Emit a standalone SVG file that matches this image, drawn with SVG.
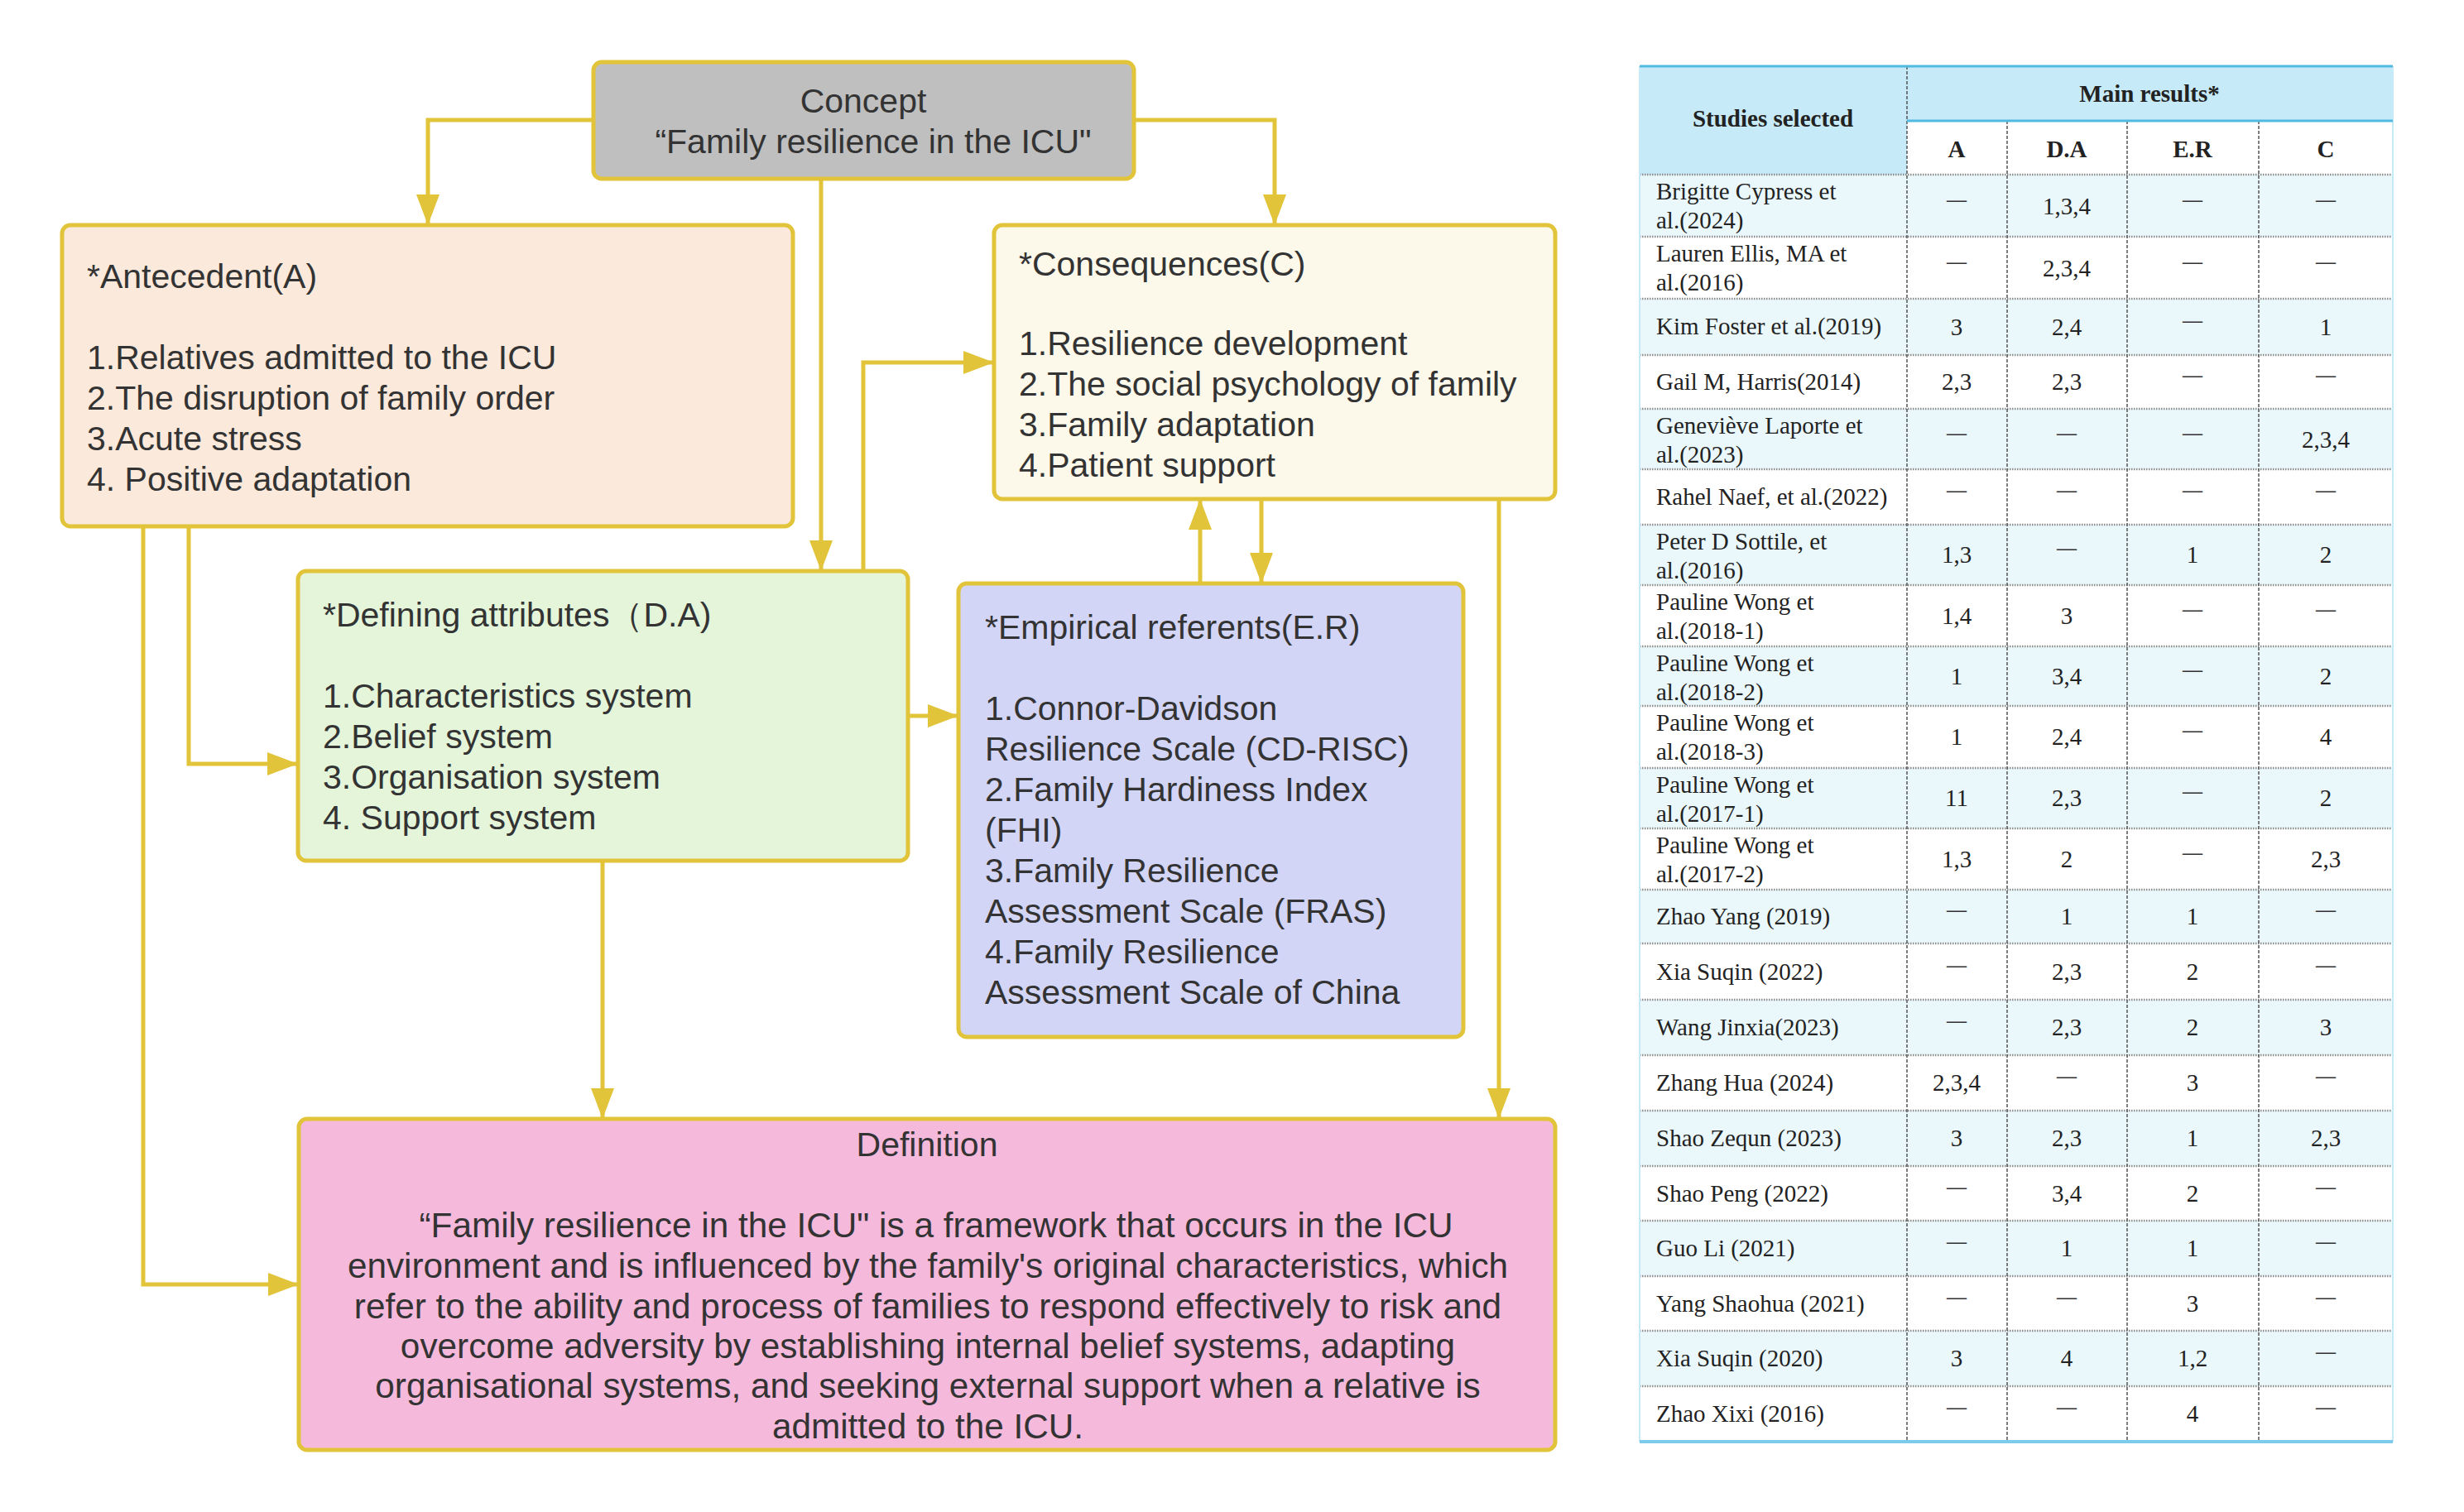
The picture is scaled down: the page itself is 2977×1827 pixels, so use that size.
<svg xmlns="http://www.w3.org/2000/svg" width="2977" height="1827" viewBox="0 0 2977 1827">
<style>
.box{stroke:#e1c43a;stroke-width:5}
.t{font-family:"Liberation Sans",Arial,sans-serif;font-size:41px;fill:#333}
.def{font-size:42.3px}
.c{text-anchor:middle}
.conn path{fill:none;stroke:#e1c43a;stroke-width:5}
.tb{font-family:"Liberation Serif","Times New Roman",serif;font-size:29px;fill:#222}
.tbh{font-weight:bold}
.v{text-anchor:middle}
.d{font-family:"Liberation Serif",serif;font-size:24px;font-weight:bold;fill:#333;text-anchor:middle}
.rowsep{stroke:#8c8c8c;stroke-width:2.5;stroke-dasharray:1.5 1.5}
.colsep{stroke:#555;stroke-width:1.5;stroke-dasharray:4 2}
</style>
<defs>
<marker id="ah" markerUnits="userSpaceOnUse" markerWidth="38" markerHeight="30" refX="37" refY="14" orient="auto">
<path d="M0,0 L37,14 L0,28 z" fill="#e1c43a"/>
</marker>
</defs>
<rect width="2977" height="1827" fill="#ffffff"/>

<g id="connectors" class="conn">
<path d="M717,145 H517 V272" marker-end="url(#ah)"/>
<path d="M1370,145 H1540 V272" marker-end="url(#ah)"/>
<path d="M992,216 V690" marker-end="url(#ah)"/>
<path d="M228,636 V923 H360" marker-end="url(#ah)"/>
<path d="M173,636 V1552 H361" marker-end="url(#ah)"/>
<path d="M1043,690 V438 H1201" marker-end="url(#ah)"/>
<path d="M1097,865 H1158" marker-end="url(#ah)"/>
<path d="M1450,705 V603" marker-end="url(#ah)"/>
<path d="M1524,603 V705" marker-end="url(#ah)"/>
<path d="M728,1040 V1352" marker-end="url(#ah)"/>
<path d="M1811,603 V1352" marker-end="url(#ah)"/>
</g>

<g id="concept">
<rect class="box" x="717" y="75" width="653" height="141" rx="10" fill="#bfbfbf"/>
<text class="t c"><tspan x="1043" y="136">Concept</tspan><tspan x="1055" y="185">“Family resilience in the ICU"</tspan></text>
</g>

<g id="antecedent">
<rect class="box" x="75" y="272" width="883" height="364" rx="10" fill="#fbe9db"/>
<text class="t"><tspan x="105" y="348">*Antecedent(A)</tspan><tspan x="105" y="446">1.Relatives admitted to the ICU</tspan><tspan x="105" y="495">2.The disruption of family order</tspan><tspan x="105" y="544">3.Acute stress</tspan><tspan x="105" y="593">4. Positive adaptation</tspan></text>
</g>

<g id="consequences">
<rect class="box" x="1201" y="272" width="678" height="331" rx="10" fill="#fcf8ea"/>
<text class="t"><tspan x="1231" y="333">*Consequences(C)</tspan><tspan x="1231" y="429">1.Resilience development</tspan><tspan x="1231" y="478">2.The social psychology of family</tspan><tspan x="1231" y="527">3.Family adaptation</tspan><tspan x="1231" y="576">4.Patient support</tspan></text>
</g>

<g id="defining-attributes">
<rect class="box" x="360" y="690" width="737" height="350" rx="10" fill="#e4f5da"/>
<text class="t"><tspan x="390" y="757">*Defining attributes（D.A)</tspan><tspan x="390" y="855">1.Characteristics system</tspan><tspan x="390" y="904">2.Belief system</tspan><tspan x="390" y="953">3.Organisation system</tspan><tspan x="390" y="1002">4. Support system</tspan></text>
</g>

<g id="empirical-referents">
<rect class="box" x="1158" y="705" width="610" height="548" rx="10" fill="#d3d5f6"/>
<text class="t"><tspan x="1190" y="772">*Empirical referents(E.R)</tspan><tspan x="1190" y="870">1.Connor-Davidson</tspan><tspan x="1190" y="919">Resilience Scale (CD-RISC)</tspan><tspan x="1190" y="968">2.Family Hardiness Index</tspan><tspan x="1190" y="1017">(FHI)</tspan><tspan x="1190" y="1066">3.Family Resilience</tspan><tspan x="1190" y="1115">Assessment Scale (FRAS)</tspan><tspan x="1190" y="1164">4.Family Resilience</tspan><tspan x="1190" y="1213">Assessment Scale of China</tspan></text>
</g>

<g id="definition">
<rect class="box" x="361" y="1352" width="1518" height="400" rx="10" fill="#f5b9db"/>
<text class="t c"><tspan x="1120" y="1397">Definition</tspan></text>
<text class="t def c"><tspan x="1131" y="1495">“Family resilience in the ICU" is a framework that occurs in the ICU</tspan><tspan x="1121" y="1544">environment and is influenced by the family's original characteristics, which</tspan><tspan x="1121" y="1592.5">refer to the ability and process of families to respond effectively to risk and</tspan><tspan x="1121" y="1641">overcome adversity by establishing internal belief systems, adapting</tspan><tspan x="1121" y="1689">organisational systems, and seeking external support when a relative is</tspan><tspan x="1121" y="1737.5">admitted to the ICU.</tspan></text>
</g>

<g id="table">
<rect x="1981" y="80" width="323" height="131" fill="#c6eaf8"/>
<rect x="2304" y="80" width="587" height="66" fill="#c6eaf8"/>
<rect x="2304" y="146" width="587" height="65" fill="#ffffff"/>
<g fill="#eaf8fc">
<rect x="1981" y="211" width="910" height="75"/>
<rect x="1981" y="361" width="910" height="68"/>
<rect x="1981" y="494" width="910" height="73"/>
<rect x="1981" y="634" width="910" height="73"/>
<rect x="1981" y="781" width="910" height="72"/>
<rect x="1981" y="928" width="910" height="73"/>
<rect x="1981" y="1075" width="910" height="65"/>
<rect x="1981" y="1208" width="910" height="67"/>
<rect x="1981" y="1342" width="910" height="67"/>
<rect x="1981" y="1475" width="910" height="67"/>
<rect x="1981" y="1608" width="910" height="67"/>
</g>
<g class="rowsep">
<line x1="1981" y1="211" x2="2891" y2="211"/>
<line x1="1981" y1="286" x2="2891" y2="286"/>
<line x1="1981" y1="361" x2="2891" y2="361"/>
<line x1="1981" y1="429" x2="2891" y2="429"/>
<line x1="1981" y1="494" x2="2891" y2="494"/>
<line x1="1981" y1="567" x2="2891" y2="567"/>
<line x1="1981" y1="634" x2="2891" y2="634"/>
<line x1="1981" y1="707" x2="2891" y2="707"/>
<line x1="1981" y1="781" x2="2891" y2="781"/>
<line x1="1981" y1="853" x2="2891" y2="853"/>
<line x1="1981" y1="928" x2="2891" y2="928"/>
<line x1="1981" y1="1001" x2="2891" y2="1001"/>
<line x1="1981" y1="1075" x2="2891" y2="1075"/>
<line x1="1981" y1="1140" x2="2891" y2="1140"/>
<line x1="1981" y1="1208" x2="2891" y2="1208"/>
<line x1="1981" y1="1275" x2="2891" y2="1275"/>
<line x1="1981" y1="1342" x2="2891" y2="1342"/>
<line x1="1981" y1="1409" x2="2891" y2="1409"/>
<line x1="1981" y1="1475" x2="2891" y2="1475"/>
<line x1="1981" y1="1542" x2="2891" y2="1542"/>
<line x1="1981" y1="1608" x2="2891" y2="1608"/>
<line x1="1981" y1="1675" x2="2891" y2="1675"/>
</g>
<g class="colsep">
<line x1="2304" y1="80" x2="2304" y2="1742"/>
<line x1="2425" y1="146" x2="2425" y2="1742"/>
<line x1="2570" y1="146" x2="2570" y2="1742"/>
<line x1="2729" y1="146" x2="2729" y2="1742"/>
</g>
<line x1="1981" y1="80" x2="1981" y2="1742" stroke="#c6eaf8" stroke-width="2"/>
<line x1="2891" y1="80" x2="2891" y2="1742" stroke="#c6eaf8" stroke-width="2"/>
<line x1="1981" y1="80" x2="2891" y2="80" stroke="#52b9e2" stroke-width="3"/>
<line x1="2304" y1="146" x2="2891" y2="146" stroke="#52b9e2" stroke-width="3"/>
<line x1="1981" y1="1742" x2="2891" y2="1742" stroke="#7dcbea" stroke-width="4"/>

<g class="tb tbh">
<text class="v" x="2142" y="153">Studies selected</text>
<text class="v" x="2597" y="123">Main results*</text>
<text class="v" x="2364" y="190">A</text>
<text class="v" x="2497" y="190">D.A</text>
<text class="v" x="2649" y="190">E.R</text>
<text class="v" x="2810" y="190">C</text>
</g>

<g class="tb">
<text><tspan x="2001" y="241">Brigitte Cypress et</tspan><tspan x="2001" y="276">al.(2024)</tspan></text>
<text><tspan x="2001" y="316">Lauren Ellis, MA et</tspan><tspan x="2001" y="351">al.(2016)</tspan></text>
<text x="2001" y="404">Kim Foster et al.(2019)</text>
<text x="2001" y="471">Gail M, Harris(2014)</text>
<text><tspan x="2001" y="524">Geneviève Laporte et</tspan><tspan x="2001" y="559">al.(2023)</tspan></text>
<text x="2001" y="610">Rahel Naef, et al.(2022)</text>
<text><tspan x="2001" y="664">Peter D Sottile, et</tspan><tspan x="2001" y="699">al.(2016)</tspan></text>
<text><tspan x="2001" y="737">Pauline Wong et</tspan><tspan x="2001" y="772">al.(2018-1)</tspan></text>
<text><tspan x="2001" y="811">Pauline Wong et</tspan><tspan x="2001" y="846">al.(2018-2)</tspan></text>
<text><tspan x="2001" y="883">Pauline Wong et</tspan><tspan x="2001" y="918">al.(2018-3)</tspan></text>
<text><tspan x="2001" y="958">Pauline Wong et</tspan><tspan x="2001" y="993">al.(2017-1)</tspan></text>
<text><tspan x="2001" y="1031">Pauline Wong et</tspan><tspan x="2001" y="1066">al.(2017-2)</tspan></text>
<text x="2001" y="1117">Zhao Yang (2019)</text>
<text x="2001" y="1184">Xia Suqin (2022)</text>
<text x="2001" y="1251">Wang Jinxia(2023)</text>
<text x="2001" y="1318">Zhang Hua (2024)</text>
<text x="2001" y="1385">Shao Zequn (2023)</text>
<text x="2001" y="1452">Shao Peng (2022)</text>
<text x="2001" y="1518">Guo Li (2021)</text>
<text x="2001" y="1585">Yang Shaohua (2021)</text>
<text x="2001" y="1651">Xia Suqin (2020)</text>
<text x="2001" y="1718">Zhao Xixi (2016)</text>
</g>

<g class="tb v">
<text x="2497" y="259">1,3,4</text>
<text x="2497" y="334">2,3,4</text>
<text x="2364" y="405">3</text><text x="2497" y="405">2,4</text><text x="2810" y="405">1</text>
<text x="2364" y="471">2,3</text><text x="2497" y="471">2,3</text>
<text x="2810" y="541">2,3,4</text>
<text x="2364" y="680">1,3</text><text x="2649" y="680">1</text><text x="2810" y="680">2</text>
<text x="2364" y="754">1,4</text><text x="2497" y="754">3</text>
<text x="2364" y="827">1</text><text x="2497" y="827">3,4</text><text x="2810" y="827">2</text>
<text x="2364" y="900">1</text><text x="2497" y="900">2,4</text><text x="2810" y="900">4</text>
<text x="2364" y="974">11</text><text x="2497" y="974">2,3</text><text x="2810" y="974">2</text>
<text x="2364" y="1048">1,3</text><text x="2497" y="1048">2</text><text x="2810" y="1048">2,3</text>
<text x="2497" y="1117">1</text><text x="2649" y="1117">1</text>
<text x="2497" y="1184">2,3</text><text x="2649" y="1184">2</text>
<text x="2497" y="1251">2,3</text><text x="2649" y="1251">2</text><text x="2810" y="1251">3</text>
<text x="2364" y="1318">2,3,4</text><text x="2649" y="1318">3</text>
<text x="2364" y="1385">3</text><text x="2497" y="1385">2,3</text><text x="2649" y="1385">1</text><text x="2810" y="1385">2,3</text>
<text x="2497" y="1452">3,4</text><text x="2649" y="1452">2</text>
<text x="2497" y="1518">1</text><text x="2649" y="1518">1</text>
<text x="2649" y="1585">3</text>
<text x="2364" y="1651">3</text><text x="2497" y="1651">4</text><text x="2649" y="1651">1,2</text>
<text x="2649" y="1718">4</text>
</g>

<g class="d">
<text x="2364" y="249">—</text><text x="2649" y="249">—</text><text x="2810" y="249">—</text>
<text x="2364" y="324">—</text><text x="2649" y="324">—</text><text x="2810" y="324">—</text>
<text x="2649" y="395">—</text>
<text x="2649" y="461">—</text><text x="2810" y="461">—</text>
<text x="2364" y="531">—</text><text x="2497" y="531">—</text><text x="2649" y="531">—</text>
<text x="2364" y="600">—</text><text x="2497" y="600">—</text><text x="2649" y="600">—</text><text x="2810" y="600">—</text>
<text x="2497" y="670">—</text>
<text x="2649" y="744">—</text><text x="2810" y="744">—</text>
<text x="2649" y="817">—</text>
<text x="2649" y="890">—</text>
<text x="2649" y="964">—</text>
<text x="2649" y="1038">—</text>
<text x="2364" y="1107">—</text><text x="2810" y="1107">—</text>
<text x="2364" y="1174">—</text><text x="2810" y="1174">—</text>
<text x="2364" y="1241">—</text>
<text x="2497" y="1308">—</text><text x="2810" y="1308">—</text>
<text x="2364" y="1442">—</text><text x="2810" y="1442">—</text>
<text x="2364" y="1508">—</text><text x="2810" y="1508">—</text>
<text x="2364" y="1575">—</text><text x="2497" y="1575">—</text><text x="2810" y="1575">—</text>
<text x="2810" y="1641">—</text>
<text x="2364" y="1708">—</text><text x="2497" y="1708">—</text><text x="2810" y="1708">—</text>
</g>
</g>
</svg>
